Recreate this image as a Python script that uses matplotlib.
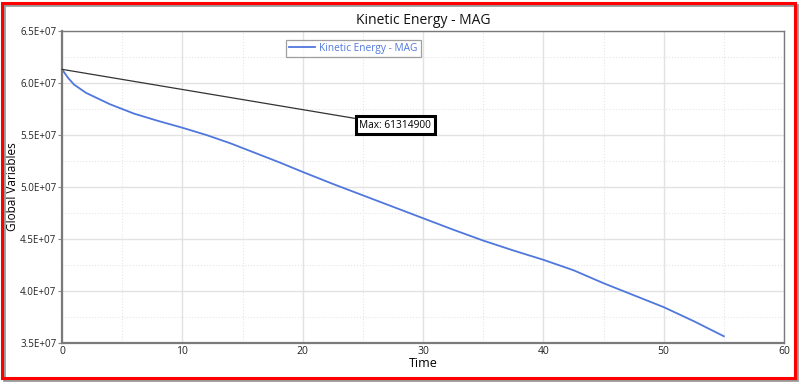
import matplotlib
matplotlib.use("Agg")
import matplotlib.pyplot as plt
from matplotlib.patches import Rectangle
from matplotlib.ticker import MultipleLocator, FuncFormatter

plt.rcParams['font.family'] = ['Open Sans', 'DejaVu Sans']

time = [0, 0.5, 1, 2, 3, 4, 5, 6, 8, 10, 12, 14, 16, 18, 20, 22.5, 25, 27.5,
        30, 32.5, 35, 37.5, 40, 42.5, 45, 47.5, 50, 52.5, 55]
ke = [61.3149, 60.5, 59.85, 59.05, 58.5, 57.95, 57.5, 57.05, 56.35, 55.7, 55.0,
      54.2, 53.3, 52.4, 51.45, 50.3, 49.2, 48.1, 47.0, 45.9, 44.85, 43.9, 43.0,
      42.0, 40.75, 39.6, 38.45, 37.1, 35.65]
ke = [v * 1e6 for v in ke]
max_value = 61314900
series_name = "Kinetic Energy - MAG"

fig = plt.figure(figsize=(8.0, 3.83), dpi=100)
ax = fig.add_axes([62/800, 1 - 343/383, (784-62)/800, (343-31)/383])

ax.plot(time, ke, color='#4f77dc', lw=1.3, label=series_name)

ax.set_xlim(0, 60)
ax.set_ylim(35e6, 65e6)
ax.xaxis.set_major_locator(MultipleLocator(10))
ax.xaxis.set_minor_locator(MultipleLocator(5))
ax.yaxis.set_major_locator(MultipleLocator(5e6))
ax.yaxis.set_minor_locator(MultipleLocator(2.5e6))
ax.yaxis.set_major_formatter(FuncFormatter(lambda v, p: f"{v:.1E}"))
ax.grid(which='major', color='#e2e2e2', lw=1.0)
ax.grid(which='minor', color='#e6e6e6', lw=0.8, ls=':')
ax.set_axisbelow(True)
ax.tick_params(which='major', length=3, width=0.8, color='#888888', labelsize=7, pad=1, labelcolor='#222222')
ax.tick_params(which='minor', length=0)
ax.tick_params(axis='x', length=0, pad=2, labelsize=7.5)
for s in ['left', 'bottom']:
    ax.spines[s].set_color('#7a7a7a')
    ax.spines[s].set_linewidth(1.6)
for s in ['top', 'right']:
    ax.spines[s].set_color('#7a7a7a')
    ax.spines[s].set_linewidth(1.0)

ax.set_title("Kinetic Energy - MAG", fontsize=10, pad=5, color='#111111')
ax.set_ylabel("Global Variables", fontsize=8.5)
ax.yaxis.set_label_coords((19-62)/722, 0.5)
ax.set_xlabel("Time", fontsize=9, labelpad=0)

leg = ax.legend(loc='upper left', bbox_to_anchor=((286-62)/722, 1 - (40-31)/312),
                fontsize=7.3, frameon=True, fancybox=False, borderpad=0.3,
                handlelength=2.6, handletextpad=0.4, borderaxespad=0)
leg.get_frame().set_edgecolor('#888888')
leg.get_frame().set_linewidth(0.9)
for t in leg.get_texts():
    t.set_color('#4f77dc')

ax.annotate(f"Max: {max_value}", xy=(0, max_value), xytext=(24.7, 55.95e6),
            fontsize=7.3, va='center', ha='left',
            bbox=dict(boxstyle='square,pad=0.35', fc='white', ec='black', lw=2.2),
            arrowprops=dict(arrowstyle='-', color='#333333', lw=0.9, shrinkA=0, shrinkB=0))

# red frame with shadow
fig.patches.append(Rectangle((4/800, 1 - 380/383), 793/800, 375/383, transform=fig.transFigure,
                             fill=False, ec='#9a9a9a', lw=2, zorder=0))
fig.patches.append(Rectangle((2/800, 1 - 378/383), 793/800, 375/383, transform=fig.transFigure,
                             fill=False, ec='#ff0000', lw=2.2, zorder=1))

fig.savefig("out.png", dpi=100)
